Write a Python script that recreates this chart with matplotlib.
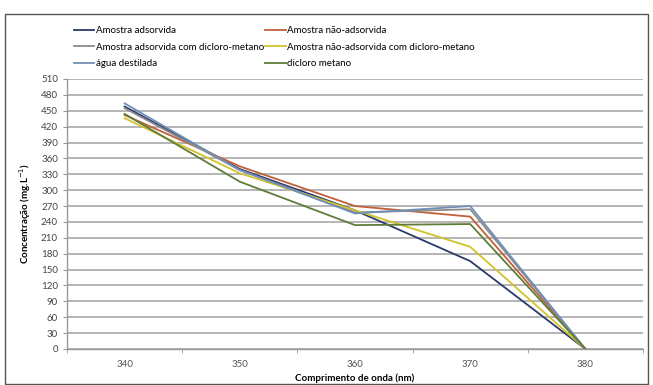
import matplotlib.pyplot as plt
from matplotlib.patches import Rectangle

plt.rcParams['font.family'] = ['Lato', 'DejaVu Sans']

comprimentos = ['340', '350', '360', '370', '380']
y_ticks = list(range(0, 511, 30))

series_nomes = ['Amostra adsorvida', 'Amostra não-adsorvida',
                'Amostra adsorvida com dicloro-metano', 'Amostra não-adsorvida com dicloro-metano',
                'água destilada', 'dicloro metano']
amostra_adsorvida = [458, 340, 262, 166, 0]
amostra_nao_adsorvida = [442, 345, 270, 250, 0]
adsorvida_dcm = [455, 338, 258, 264, 0]
nao_adsorvida_dcm = [436, 332, 262, 193, 0]
agua_destilada = [464, 338, 256, 270, 0]
dicloro_metano = [444, 316, 234, 236, 0]
cores = ['#2B3A6B', '#C0603A', '#8E8A8A', '#D2C22C', '#6F8FB8', '#5E7D38']

valores = [amostra_adsorvida, amostra_nao_adsorvida, adsorvida_dcm,
           nao_adsorvida_dcm, agua_destilada, dicloro_metano]

fig = plt.figure(figsize=(6.53, 3.85), dpi=100)
ax = fig.add_axes([67/653, 36/385, 576/653, 270/385])

x = list(range(len(comprimentos)))
linhas = []
for nome, vals, cor in zip(series_nomes, valores, cores):
    l, = ax.plot(x, vals, color=cor, linewidth=1.3, label=nome)
    linhas.append(l)

ax.set_xlim(-0.5, len(comprimentos) - 0.5)
ax.set_ylim(0, 510)
ax.set_yticks(y_ticks)
ax.set_xticks(x)
ax.set_xticklabels(comprimentos)
ax.set_xticks([i - 0.5 for i in range(len(comprimentos) + 1)], minor=True)
ax.tick_params(axis='x', which='major', length=0, pad=8, labelsize=7, colors='#555555')
ax.tick_params(axis='x', which='minor', length=3, color='#999999', direction='out')
ax.tick_params(axis='y', length=3, color='#999999', labelsize=7, colors='#444444')
ax.grid(axis='y', color='#A8A8A8', linewidth=1.2)
ax.set_axisbelow(True)
for s in ['top', 'right']:
    ax.spines[s].set_visible(False)
for s in ['left', 'bottom']:
    ax.spines[s].set_color('#999999')
    ax.spines[s].set_linewidth(1.0)

ax.set_xlabel('Comprimento de onda (nm)', fontsize=7, fontweight='bold', labelpad=3)
ax.set_ylabel('Concentração (mg.L$^{-1}$)', fontsize=7, fontweight='bold', labelpad=6)

ordem = [0, 2, 4, 1, 3, 5]
fig.legend([linhas[i] for i in ordem], [series_nomes[i] for i in ordem], ncol=2,
           loc='upper left', bbox_to_anchor=(74/653, 1 - 26/385), frameon=False,
           fontsize=7.0, handlelength=2.1, handletextpad=0.15, labelspacing=0.78,
           columnspacing=0.1, borderaxespad=0, borderpad=0)

fig.patches.append(Rectangle((5/653, 0.002), 643/653, 1 - 14/385 - 0.002,
                             transform=fig.transFigure, fill=False,
                             edgecolor='#555555', linewidth=1.0))

fig.savefig('out.png', dpi=100)
